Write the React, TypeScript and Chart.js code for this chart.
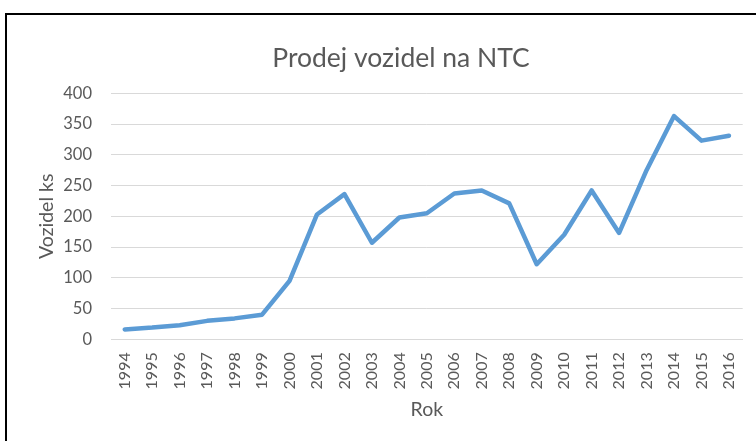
import React, { useEffect, useRef } from "react";
import { Chart, registerables } from "chart.js";

Chart.register(...registerables);

const years = ["1994","1995","1996","1997","1998","1999","2000","2001","2002","2003","2004","2005","2006","2007","2008","2009","2010","2011","2012","2013","2014","2015","2016"];
const sales = [16, 19, 23, 30, 34, 40, 95, 203, 236, 157, 198, 205, 237, 242, 221, 122, 170, 242, 173, 275, 363, 323, 331];
const chartTitle = "Prodej vozidel na NTC";
const yTitle = "Vozidel ks";
const xTitle = "Rok";

export default function App() {
  const ref = useRef<HTMLCanvasElement | null>(null);
  useEffect(() => {
    if (!ref.current) return;
    const grey = "#595959";
    const chart = new Chart(ref.current, {
      type: "line",
      data: {
        labels: years,
        datasets: [
          {
            data: sales,
            borderColor: "#5B9BD5",
            backgroundColor: "#5B9BD5",
            borderWidth: 4.5,
            pointRadius: 0,
            tension: 0,
            borderCapStyle: "round",
            borderJoinStyle: "round",
          },
        ],
      },
      options: {
        animation: false,
        responsive: false,
        devicePixelRatio: 1,
        layout: { padding: { left: 59.3, right: 57.3, top: 0, bottom: 0 } },
        plugins: {
          legend: { display: false },
          tooltip: { enabled: false },
          title: {
            display: true,
            text: chartTitle,
            color: grey,
            font: { family: "Lato", size: 26.5, weight: "normal", lineHeight: 1.2 },
            padding: { top: 42.1, bottom: 19.4 },
          },
        },
        scales: {
          x: {
            offset: true,
            grid: { display: false, drawTicks: false },
            border: { display: true, color: "#d9d9d9", width: 1 },
            ticks: {
              color: grey,
              font: { family: "Lato", size: 16 },
              minRotation: 90,
              maxRotation: 90,
              padding: 13,
              autoSkip: false,
            },
            title: {
              display: true,
              text: xTitle,
              color: grey,
              font: { family: "Lato", size: 19.5, lineHeight: 1.2 },
              padding: { top: 0, bottom: 19.1 },
            },
            afterFit: (s: any) => {
              s.height = 101.7;
            },
          },
          y: {
            min: 0,
            max: 400,
            grid: { color: "#d9d9d9", lineWidth: 1, drawTicks: false },
            border: { display: false },
            ticks: {
              stepSize: 50,
              color: grey,
              font: { family: "Lato", size: 16.5 },
              padding: 19,
            },
            title: {
              display: true,
              text: yTitle,
              color: grey,
              font: { family: "Lato", size: 19.5, lineHeight: 1.2 },
              padding: { top: -24.5, bottom: 0 },
            },
            afterFit: (s: any) => {
              s.width = 51.7;
            },
          },
        },
      },
    });
    return () => chart.destroy();
  }, []);

  return (
    <div style={{ position: "fixed", left: 0, top: 0, width: 756, height: 441, overflow: "hidden", background: "#fff" }}>
      <canvas ref={ref} width={800} height={441} style={{ position: "absolute", left: 0, top: 0, width: 800, height: 441 }} />
      <div
        style={{
          position: "absolute",
          left: 5,
          top: 13,
          width: 1000,
          height: 1000,
          borderTop: "2px solid #000",
          borderLeft: "2px solid #000",
          pointerEvents: "none",
        }}
      />
    </div>
  );
}
